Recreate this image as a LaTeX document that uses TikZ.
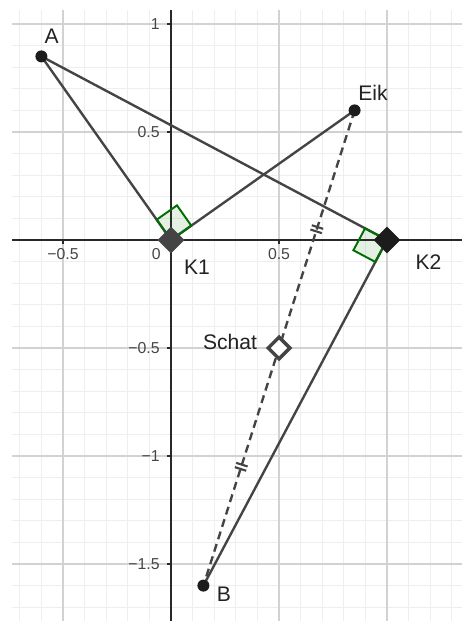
\documentclass[tikz,border=0pt]{standalone}
\usepackage{fontspec}
\setmainfont{Liberation Sans}
\usetikzlibrary{shapes.geometric, calc}

\definecolor{segcol}{RGB}{68,68,68}
\definecolor{dotcol}{RGB}{28,28,28}
\definecolor{minorgrid}{RGB}{238,238,238}
\definecolor{majorgrid}{RGB}{210,210,210}
\definecolor{axiscol}{RGB}{40,40,40}
\definecolor{anglecol}{RGB}{0,110,0}
\definecolor{labelcol}{RGB}{35,35,35}
\definecolor{tickcol}{RGB}{70,70,70}

\begin{document}
\begin{tikzpicture}[
        x=4.32cm, y=4.32cm,
        minor/.style={draw=minorgrid, line width=0.6pt},
        major/.style={draw=majorgrid, line width=0.6pt},
        axis/.style={draw=axiscol, line width=0.6pt},
        seg/.style={draw=segcol, line width=1.35pt},
        helper/.style={seg, dash pattern=on 0.16cm off 0.1cm},
        hash/.style={draw=segcol, line width=1.2pt},
        rightangle/.style={draw=anglecol, line width=1.1pt, fill=anglecol, fill opacity=0.1},
        dot/.style={circle, fill=dotcol, inner sep=0pt, minimum size=0.24cm},
        corner/.style={diamond, fill=#1, inner sep=0pt, minimum size=0.54cm},
        hollow/.style={diamond, draw=segcol, line width=0.07cm, fill=white, inner sep=0pt, minimum size=0.46cm},
        ptlabel/.style={text=labelcol, font=\fontsize{12}{14}\selectfont, inner sep=0pt},
        ticklabel/.style={text=tickcol, font=\fontsize{9}{10}\selectfont, inner sep=0pt}
    ]
        \useasboundingbox[fill=white] (-0.7917,-1.7639) rectangle (1.3472,1.1111);

        % Grid
        \foreach \gx in {-7,...,13}
            \draw[minor] (\gx/10,-1.7639) -- (\gx/10,1.065);
        \foreach \gy in {-17,...,10}
            \draw[minor] (-0.736,\gy/10) -- (1.3472,\gy/10);
        \foreach \gx in {-0.5,0.5,1}
            \draw[major] (\gx,-1.7639) -- (\gx,1.065);
        \foreach \gy in {-1.5,-1,-0.5,0.5,1}
            \draw[major] (-0.736,\gy) -- (1.3472,\gy);

        % Axes
        \draw[axis] (-0.736,0) -- (1.3472,0);
        \draw[axis] (0,-1.7639) -- (0,1.065);
        \foreach \gx in {-0.5,0.5,1}
            \draw[axis] (\gx,0) -- ++(0,-0.02);
        \foreach \gy in {-1.5,-1,-0.5,0.5,1}
            \draw[axis] (0,\gy) -- ++(-0.02,0);

        % Tick labels
        \node[ticklabel] (tx_m05) at (-0.5,-0.067) {−0.5};
        \node[ticklabel] (tx_05) at (0.5,-0.067) {0.5};
        \node[ticklabel, anchor=east] (tx_0) at (-0.046,-0.067) {0};
        \node[ticklabel, anchor=east] (ty_1) at (-0.051,1) {1};
        \node[ticklabel, anchor=east] (ty_05) at (-0.051,0.5) {0.5};
        \node[ticklabel, anchor=east] (ty_m05) at (-0.051,-0.5) {−0.5};
        \node[ticklabel, anchor=east] (ty_m1) at (-0.051,-1) {−1};
        \node[ticklabel, anchor=east] (ty_m15) at (-0.051,-1.5) {−1.5};

        % Points
        \coordinate (A) at (-0.6,0.85);
        \coordinate (Eik) at (0.85,0.6);
        \coordinate (B) at (0.15,-1.6);
        \coordinate (K1) at (0,0);
        \coordinate (K2) at (1,0);
        \coordinate (Schat) at ($(Eik)!0.5!(B)$);

        % Segments
        \draw[seg] (A) -- (K1);
        \draw[seg] (A) -- (K2);
        \draw[seg] (K1) -- (Eik);
        \draw[seg] (K2) -- (B);
        \draw[helper] (Eik) -- (B);

        % Equal halves
        \coordinate (m1) at ($(Eik)!0.5!(Schat)$);
        \coordinate (m2) at ($(Schat)!0.5!(B)$);
        \foreach \m in {m1,m2}
            \foreach \s in {-0.045cm,0.045cm} {
                \coordinate (h) at ($(\m)!\s!(Eik)$);
                \draw[hash] ($(h)!0.12cm!90:(Eik)$) -- ($(h)!0.12cm!-90:(Eik)$);
            }

        % Right angles
        \coordinate (k1a) at ($(K1)!0.497cm!(A)$);
        \coordinate (k1e) at ($(K1)!0.497cm!(Eik)$);
        \draw[rightangle] (K1) -- (k1a) -- ($(k1a)+(k1e)-(K1)$) -- (k1e) -- cycle;
        \coordinate (k2a) at ($(K2)!0.497cm!(A)$);
        \coordinate (k2b) at ($(K2)!0.497cm!(B)$);
        \draw[rightangle] (K2) -- (k2a) -- ($(k2a)+(k2b)-(K2)$) -- (k2b) -- cycle;

        % Markers
        \node[dot] (A_dot) at (A) {};
        \node[dot] (Eik_dot) at (Eik) {};
        \node[dot] (B_dot) at (B) {};
        \node[corner=segcol] (K1_mark) at (K1) {};
        \node[corner=dotcol] (K2_mark) at (K2) {};
        \node[hollow] (Schat_mark) at (Schat) {};

        % Labels
        \node[ptlabel] (A_lbl) at (-0.553,0.942) {A};
        \node[ptlabel] (Eik_lbl) at (0.935,0.681) {Eik};
        \node[ptlabel] (B_lbl) at (0.245,-1.639) {B};
        \node[ptlabel] (K1_lbl) at (0.120,-0.127) {K1};
        \node[ptlabel] (K2_lbl) at (1.192,-0.104) {K2};
        \node[ptlabel] (Schat_lbl) at (0.273,-0.472) {Schat};

\end{tikzpicture}
\end{document}
